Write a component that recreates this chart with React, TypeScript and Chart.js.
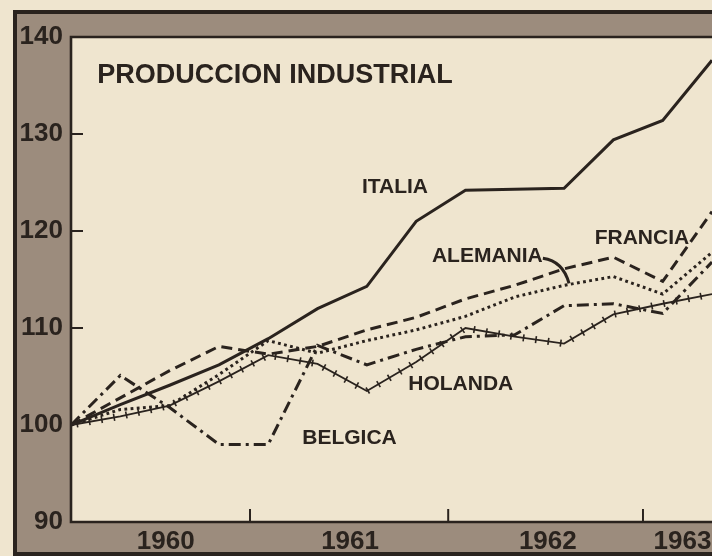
import React, { useEffect, useRef } from 'react';
import { Chart, registerables } from 'chart.js';

Chart.register(...registerables);

// Quarterly index of industrial production (1959/60 = 100)
const quarters = ['I-1960', 'II-1960', 'III-1960', 'IV-1960', 'I-1961', 'II-1961', 'III-1961', 'IV-1961', 'I-1962', 'II-1962', 'III-1962', 'IV-1962', 'I-1963', 'II-1963'];
const italia = [100, 102.1, 104.1, 106.2, 108.9, 112.0, 114.3, 121.0, 124.2, 124.3, 124.4, 129.4, 131.4, 137.6];
const francia = [100, 102.8, 105.6, 108.1, 107.3, 108.1, 109.8, 111.1, 113.0, 114.4, 116.1, 117.3, 114.8, 122.0];
const alemania = [100, 101.6, 102.0, 105.2, 108.7, 107.4, 108.7, 109.8, 111.2, 113.2, 114.4, 115.3, 113.5, 117.8];
const holanda = [100, 100.9, 102.0, 104.5, 107.2, 106.3, 103.5, 106.5, 110.0, 109.1, 108.4, 111.4, 112.5, 113.5];
const belgica = [100, 105.1, 101.8, 98.0, 98.0, 108.2, 106.2, 107.8, 109.1, 109.3, 112.3, 112.5, 111.5, 116.8];

const seriesNames = ['ITALIA', 'FRANCIA', 'ALEMANIA', 'HOLANDA', 'BELGICA'];
const yearLabels = ['1960', '1961', '1962', '1963'];
const titleText = 'PRODUCCION INDUSTRIAL';

const INK = '#2a231e';
const PAPER = '#efe5cf';
const BAND = '#9c8c7d';
const FONT = "'Liberation Sans', Arial, sans-serif";

// year label anchor (quarter index units) and year boundaries
const yearLabelAt = [1.92, 5.66, 9.67, 12.4];
const yearBoundaryAt = [3.63, 7.65, 11.6];

const framePlugin = {
  id: 'frame',
  beforeDraw(chart: any) {
    const { ctx, chartArea: a, width, height } = chart;
    ctx.save();
    ctx.fillStyle = PAPER;
    ctx.fillRect(0, 0, width, height);
    ctx.fillStyle = BAND;
    ctx.fillRect(13, 10, width - 13, height - 10);
    ctx.fillStyle = PAPER;
    ctx.fillRect(a.left, a.top, a.right - a.left, a.bottom - a.top);
    ctx.strokeStyle = INK;
    ctx.lineWidth = 4;
    ctx.beginPath();
    ctx.moveTo(width, 12);
    ctx.lineTo(15, 12);
    ctx.lineTo(15, 554);
    ctx.lineTo(width, 554);
    ctx.stroke();
    ctx.restore();
  },
  afterDatasetsDraw(chart: any) {
    const { ctx, chartArea: a, scales } = chart;
    const xs = scales.x;
    const ys = scales.y;
    ctx.save();
    // Holanda tick marks along the line
    const meta = chart.getDatasetMeta(3);
    const pts = meta.data.map((p: any) => ({ x: p.x, y: p.y }));
    ctx.strokeStyle = INK;
    ctx.lineWidth = 1.6;
    const step = 12.5;
    let carry = step / 2;
    for (let i = 0; i < pts.length - 1; i++) {
      const p0 = pts[i];
      const p1 = pts[i + 1];
      const dx = p1.x - p0.x;
      const dy = p1.y - p0.y;
      const len = Math.hypot(dx, dy);
      const ux = dx / len;
      const uy = dy / len;
      let d = carry;
      while (d < len) {
        const cx = p0.x + ux * d;
        const cy = p0.y + uy * d;
        ctx.beginPath();
        ctx.moveTo(cx - uy * 3.5, cy + ux * 3.5);
        ctx.lineTo(cx + uy * 3.5, cy - ux * 3.5);
        ctx.stroke();
        d += step;
      }
      carry = d - len;
    }

    // plot border
    ctx.strokeStyle = INK;
    ctx.lineWidth = 2.6;
    ctx.beginPath();
    ctx.moveTo(chart.width, a.top);
    ctx.lineTo(a.left, a.top);
    ctx.lineTo(a.left, a.bottom);
    ctx.lineTo(chart.width, a.bottom);
    ctx.stroke();

    // y tick marks inside the plot
    ctx.lineWidth = 2;
    [110, 120, 130].forEach((v) => {
      const y = ys.getPixelForValue(v);
      ctx.beginPath();
      ctx.moveTo(a.left, y);
      ctx.lineTo(a.left + 12, y);
      ctx.stroke();
    });
    // year boundary marks
    yearBoundaryAt.forEach((v) => {
      const x = xs.getPixelForValue(v);
      ctx.beginPath();
      ctx.moveTo(x, a.bottom);
      ctx.lineTo(x, a.bottom - 13);
      ctx.stroke();
    });

    // title & series labels
    ctx.fillStyle = INK;
    ctx.textBaseline = 'middle';
    ctx.textAlign = 'left';
    ctx.font = `bold 27px ${FONT}`;
    ctx.fillText(titleText, xs.getPixelForValue(0.53), ys.getPixelForValue(136.0));
    ctx.font = `bold 21px ${FONT}`;
    const labelPos = [
      [5.9, 124.5],
      [10.62, 119.3],
      [7.32, 117.4],
      [6.84, 104.2],
      [4.69, 98.6],
    ];
    seriesNames.forEach((n, i) => {
      ctx.fillText(n, xs.getPixelForValue(labelPos[i][0]), ys.getPixelForValue(labelPos[i][1]));
    });
    // arrow from ALEMANIA to its line
    ctx.lineWidth = 3;
    ctx.beginPath();
    ctx.moveTo(xs.getPixelForValue(9.57), ys.getPixelForValue(117.2));
    ctx.quadraticCurveTo(xs.getPixelForValue(9.98), ys.getPixelForValue(116.9), xs.getPixelForValue(10.1), ys.getPixelForValue(114.6));
    ctx.stroke();
    ctx.restore();
  },
};

function toPoints(arr: number[]) {
  return arr.map((v, i) => ({ x: i, y: v }));
}

export default function App() {
  const ref = useRef<HTMLCanvasElement | null>(null);
  useEffect(() => {
    document.body.style.margin = '0';
    const canvas = ref.current;
    if (!canvas) return;
    const common = { borderColor: INK, pointRadius: 0, tension: 0, fill: false, borderCapStyle: 'butt' as const, borderJoinStyle: 'miter' as const };
    const chart = new Chart(canvas, {
      type: 'line',
      data: {
        labels: quarters,
        datasets: [
          { label: seriesNames[0], data: toPoints(italia), borderWidth: 3, ...common },
          { label: seriesNames[1], data: toPoints(francia), borderWidth: 3, borderDash: [11, 6], ...common },
          { label: seriesNames[2], data: toPoints(alemania), borderWidth: 3, borderDash: [2.8, 3.4], ...common },
          { label: seriesNames[3], data: toPoints(holanda), borderWidth: 1.8, ...common },
          { label: seriesNames[4], data: toPoints(belgica), borderWidth: 3, borderDash: [12, 5, 3, 5], ...common },
        ],
      },
      options: {
        animation: false,
        responsive: false,
        layout: { padding: { top: 37, left: 0, right: 0, bottom: 0 } },
        plugins: { legend: { display: false }, tooltip: { enabled: false }, title: { display: false } },
        scales: {
          x: {
            type: 'linear',
            min: 0,
            max: 13,
            grid: { display: false, drawTicks: false },
            border: { display: false },
            afterBuildTicks: (s: any) => {
              s.ticks = yearLabelAt.map((v) => ({ value: v }));
            },
            afterFit: (s: any) => {
              s.height = 34;
              s.paddingLeft = 0;
              s.paddingRight = 0;
            },
            ticks: {
              autoSkip: false,
              maxRotation: 0,
              padding: 4,
              color: INK,
              font: { family: FONT, size: 26, weight: 'bold' },
              callback: (_v: any, i: number) => yearLabels[i],
            },
          },
          y: {
            min: 90,
            max: 140,
            grid: { display: false, drawTicks: false },
            border: { display: false },
            afterFit: (s: any) => {
              s.width = 71;
              s.paddingTop = 0;
              s.paddingBottom = 0;
            },
            ticks: {
              stepSize: 10,
              padding: 8,
              color: INK,
              font: { family: FONT, size: 26, weight: 'bold' },
            },
          },
        },
      },
      plugins: [framePlugin],
    });
    return () => chart.destroy();
  }, []);
  return (
    <div style={{ width: 712, height: 556 }}>
      <canvas ref={ref} width={712} height={556} />
    </div>
  );
}
